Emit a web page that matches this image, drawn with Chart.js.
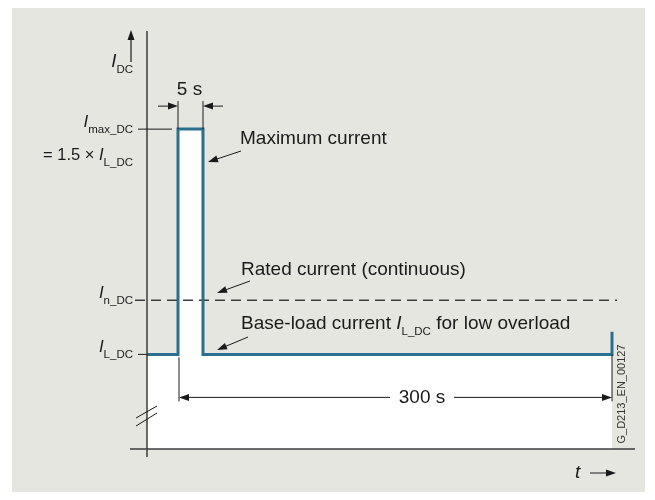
<!DOCTYPE html>
<html>
<head>
<meta charset="utf-8">
<script src="https://cdn.jsdelivr.net/npm/chart.js@4.4.0/dist/chart.umd.min.js"></script>
<style>
  html, body { margin: 0; padding: 0; background: #fff; }
  #wrap { width: 655px; height: 500px; }
</style>
</head>
<body>
<div id="wrap"><canvas id="loadChart" width="655" height="500"></canvas></div>
<script>
/* ── Data (schematic: time in arbitrary units, current in I / I_L_DC) ── */
const timePoints   = [0, 6.2, 6.2, 11.2, 11.2, 93, 93];
const loadCurrent  = [1, 1, 1.5, 1.5, 1, 1, 1.05];
const ratedTime    = [-2.4, 94];
const ratedCurrent = [1.12, 1.12];
const levelValues  = [1.5, 1.12, 1];
const levelSubs    = ['max_DC', 'n_DC', 'L_DC'];
const pulseLabel   = '5 s';
const spanLabel    = '300 s';
const docId        = 'G_D213_EN_00127';

/* ── Style ─────────────────────────────────────────────── */
const FONT  = "'Liberation Sans', Arial, sans-serif";
const INK   = '#1a1a1a';
const BLUE  = '#2c6e8e';
const PANEL = '#e6e6e1';

function arrow(ctx, x1, y1, x2, y2) {
    const a = Math.atan2(y2 - y1, x2 - x1);
    const L = 10, W = 3.5;
    ctx.beginPath();
    ctx.moveTo(x1, y1);
    ctx.lineTo(x2 - Math.cos(a) * L * 0.8, y2 - Math.sin(a) * L * 0.8);
    ctx.stroke();
    ctx.beginPath();
    ctx.moveTo(x2, y2);
    ctx.lineTo(x2 - L * Math.cos(a) + W * Math.sin(a), y2 - L * Math.sin(a) - W * Math.cos(a));
    ctx.lineTo(x2 - L * Math.cos(a) - W * Math.sin(a), y2 - L * Math.sin(a) + W * Math.cos(a));
    ctx.closePath();
    ctx.fill();
}

// parts: [{ t, italic, sub }]
function rich(ctx, parts, x, y, align, size) {
    const fontOf = p => (p.italic ? 'italic ' : '') + (p.sub ? 11.5 : size) + 'px ' + FONT;
    let w = 0;
    parts.forEach(p => { ctx.font = fontOf(p); w += ctx.measureText(p.t).width; });
    let cx = align === 'right' ? x - w : align === 'center' ? x - w / 2 : x;
    ctx.textAlign = 'left';
    ctx.textBaseline = 'alphabetic';
    parts.forEach(p => {
        ctx.font = fontOf(p);
        ctx.fillText(p.t, cx, p.sub ? y + 6 : y);
        cx += ctx.measureText(p.t).width;
    });
}

/* ── Panel + annotations plugin ────────────────────────── */
const drawing = {
    id : 'drawing',
    beforeDraw(chart) {
        const ctx = chart.ctx;
        ctx.save();
        ctx.fillStyle = '#fff';
        ctx.fillRect(0, 0, chart.width, chart.height);
        ctx.fillStyle = PANEL;
        ctx.fillRect(12, 8, 633, 484);
        ctx.restore();
    },
    afterDraw(chart) {
        const { ctx, chartArea: ca, scales: { x, y } } = chart;
        const px = v => x.getPixelForValue(v);
        const py = v => y.getPixelForValue(v);
        const x0   = px(0);
        const xs   = px(timePoints[1]);
        const xe   = px(timePoints[3]);
        const xEnd = px(timePoints[5]);
        const yL   = py(loadCurrent[0]);
        const yMax = py(loadCurrent[2]);

        ctx.save();
        ctx.strokeStyle = INK;
        ctx.fillStyle   = INK;

        /* axes */
        ctx.lineWidth = 1.5;
        ctx.strokeStyle = '#3c3c3c';
        ctx.beginPath();
        ctx.moveTo(x0, ca.top + 1);
        ctx.lineTo(x0, ca.bottom + 8);
        ctx.moveTo(x0 - 17, ca.bottom);
        ctx.lineTo(ca.right, ca.bottom);
        ctx.stroke();

        /* axis break */
        ctx.lineWidth = 1;
        ctx.strokeStyle = INK;
        ctx.beginPath();
        ctx.moveTo(x0 - 11, ca.bottom - 31); ctx.lineTo(x0 + 10, ca.bottom - 43);
        ctx.moveTo(x0 - 11, ca.bottom - 23); ctx.lineTo(x0 + 10, ca.bottom - 36);
        ctx.stroke();

        /* level leaders */
        ctx.beginPath();
        ctx.moveTo(x0 - 9, yMax); ctx.lineTo(xs - 6, yMax);
        ctx.moveTo(x0 - 9, yL);   ctx.lineTo(x0, yL);
        ctx.stroke();

        /* y-axis quantity */
        ctx.lineWidth = 1.2;
        arrow(ctx, x0 - 16, 62, x0 - 16, 30);
        ctx.fillStyle = INK;
        rich(ctx, [{ t: 'I', italic: true }, { t: 'DC', sub: true }], 133, 67, 'right', 18.5);

        /* level labels */
        levelValues.forEach((v, i) => {
            const yy = py(v);
            rich(ctx, [{ t: 'I', italic: true }, { t: levelSubs[i], sub: true }], 133, yy - 2, 'right', 17);
        });
        rich(ctx, [{ t: '= 1.5 × ' }, { t: 'I', italic: true }, { t: 'L_DC', sub: true }], 133, yMax + 31, 'right', 16.5);

        /* 5 s dimension */
        ctx.lineWidth = 1;
        ctx.beginPath();
        ctx.moveTo(xs, yMax - 28); ctx.lineTo(xs, yMax);
        ctx.moveTo(xe, yMax - 28); ctx.lineTo(xe, yMax);
        ctx.stroke();
        arrow(ctx, xs - 20, yMax - 23, xs, yMax - 23);
        arrow(ctx, xe + 20, yMax - 23, xe, yMax - 23);
        rich(ctx, [{ t: pulseLabel }], (xs + xe) / 2 - 1, yMax - 34, 'center', 19);

        /* 300 s dimension */
        const yd = yL + 43;
        ctx.beginPath();
        ctx.moveTo(xs + 1, yL + 3); ctx.lineTo(xs + 1, yL + 47);
        ctx.moveTo(xEnd, yL);       ctx.lineTo(xEnd, yL + 47);
        ctx.stroke();
        arrow(ctx, 390, yd, xs + 1, yd);
        arrow(ctx, 454, yd, xEnd, yd);
        rich(ctx, [{ t: spanLabel }], 422, yd + 6, 'center', 19);

        /* callouts */
        rich(ctx, [{ t: 'Maximum current' }], 240, 144, 'left', 19);
        arrow(ctx, 241, 151, xe + 5, 162);
        rich(ctx, [{ t: 'Rated current (continuous)' }], 241, 275, 'left', 19);
        arrow(ctx, 250, 281, 217, 293);
        rich(ctx, [{ t: 'Base-load current ' }, { t: 'I', italic: true }, { t: 'L_DC', sub: true },
                   { t: ' for low overload' }], 241, 329, 'left', 19);
        arrow(ctx, 248, 337, 217, 350);

        /* time axis quantity */
        rich(ctx, [{ t: 't', italic: true }], 575, 478, 'left', 19);
        arrow(ctx, 590, 473, 616, 473);

        /* drawing id */
        ctx.save();
        ctx.translate(625, 394);
        ctx.rotate(-Math.PI / 2);
        ctx.font = '11px ' + FONT;
        ctx.textAlign = 'center';
        ctx.fillStyle = '#333';
        ctx.fillText(docId, 0, 0);
        ctx.restore();

        ctx.restore();
    },
};

/* ── Chart ─────────────────────────────────────────────── */
new Chart(document.getElementById('loadChart'), {
    type : 'line',
    data : {
        datasets : [
            {
                label           : 'Load current',
                data            : timePoints.map((t, i) => ({ x: t, y: loadCurrent[i] })),
                borderColor     : BLUE,
                borderWidth     : 3,
                backgroundColor : '#fff',
                fill            : 'start',
                tension         : 0,
                pointRadius     : 0,
                borderJoinStyle : 'miter',
                borderCapStyle  : 'butt',
            },
            {
                label       : 'Rated current',
                data        : ratedTime.map((t, i) => ({ x: t, y: ratedCurrent[i] })),
                borderColor : '#3c3c3c',
                borderWidth : 1.6,
                borderDash  : [10, 6],
                fill        : false,
                pointRadius : 0,
                clip        : false,
            },
        ],
    },
    options : {
        responsive       : false,
        animation        : false,
        devicePixelRatio : 1,
        layout  : { padding: { left: 147, top: 30, right: 20, bottom: 51 } },
        plugins : {
            legend  : { display: false },
            tooltip : { enabled: false },
            filler  : { drawTime: 'beforeDatasetsDraw' },
        },
        scales : {
            x : { type: 'linear', min: 0, max: 97.6, display: false },
            y : { type: 'linear', min: 0.79, max: 1.72, display: false },
        },
    },
    plugins : [drawing],
});
</script>
</body>
</html>
